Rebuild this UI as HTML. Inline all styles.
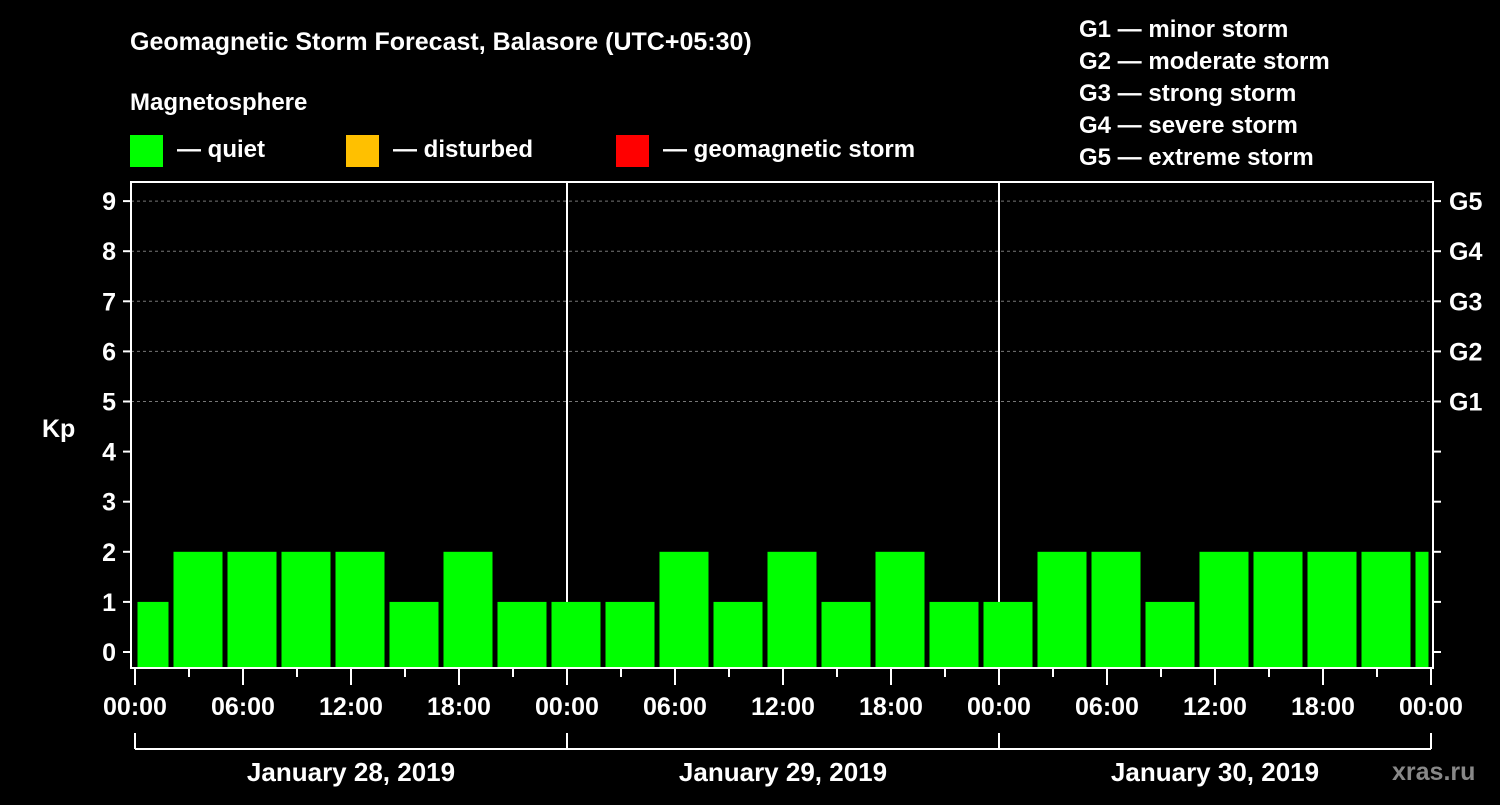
<!DOCTYPE html>
<html><head><meta charset="utf-8"><style>
html,body{margin:0;padding:0;background:#000;}
svg text{font-family:"Liberation Sans",sans-serif;font-weight:bold;fill:#fff;}
</style></head><body>
<svg id="chart" width="1500" height="800" viewBox="0 0 1500 800" xmlns="http://www.w3.org/2000/svg">
<rect width="1500" height="800" fill="#000"/>
<text x="130" y="50" font-size="25">Geomagnetic Storm Forecast, Balasore (UTC+05:30)</text>
<text x="130" y="110" font-size="24">Magnetosphere</text>
<g><rect x="130" y="135" width="33" height="32" fill="#00ff00"/><text x="177" y="157" font-size="24">— quiet</text></g>
<g><rect x="346" y="135" width="33" height="32" fill="#ffc000"/><text x="393" y="157" font-size="24">— disturbed</text></g>
<g><rect x="616" y="135" width="33" height="32" fill="#ff0000"/><text x="663" y="157" font-size="24">— geomagnetic storm</text></g>
<g font-size="24">
<text x="1079" y="37">G1 — minor storm</text>
<text x="1079" y="69">G2 — moderate storm</text>
<text x="1079" y="101">G3 — strong storm</text>
<text x="1079" y="133">G4 — severe storm</text>
<text x="1079" y="165">G5 — extreme storm</text>
</g>
<text x="42" y="437" font-size="25">Kp</text>
<g id="grid"></g><g id="bars"></g><g id="axes"></g>
<text x="1392" y="780" font-size="25" fill="#888" style="fill:#888">xras.ru</text>
</svg>
<script>
const kpValues=[1,2,2,2,2,1,2,1,1,1,2,1,2,1,2,1,1,2,2,1,2,2,2,2,2];
const barStartHour=-1;
const dayLabels=["January 28, 2019","January 29, 2019","January 30, 2019"];
const hourTickLabels=["00:00","06:00","12:00","18:00"];
const gLabels=["G1","G2","G3","G4","G5"];
const NS="http://www.w3.org/2000/svg";
const X0=135,PXH=18,TOTAL=72;
const xS=h=>X0+h*PXH;
const yS=k=>652-k*50.1;
function mk(tag,attrs,parent,text){const e=document.createElementNS(NS,tag);for(const k in attrs)e.setAttribute(k,attrs[k]);if(text!==undefined)e.textContent=text;parent.appendChild(e);return e;}
const grid=document.getElementById('grid'),bars=document.getElementById('bars'),axes=document.getElementById('axes');
for(let k=5;k<=9;k++){const l=mk('line',{x1:131,x2:1433,y1:yS(k),y2:yS(k),stroke:'#777','stroke-dasharray':'3,3','stroke-width':1},grid);

}
for(let d=1;d<dayLabels.length;d++){const l=mk('line',{x1:xS(d*24),x2:xS(d*24),y1:182,y2:668,stroke:'#fff','stroke-width':2},grid);

}
kpValues.forEach((v,i)=>{let h0=barStartHour+i*3,h1=h0+3;h0=Math.max(0,h0);h1=Math.min(TOTAL,h1);if(h1<=h0)return;
const x0=xS(h0)+2.5,x1=xS(h1)-2.5;const col=v>=5?'#ff0000':(v>=4?'#ffc000':'#00ff00');
const r=mk('rect',{x:x0,y:yS(v),width:Math.max(1,x1-x0),height:668-yS(v),fill:col},bars);

});
const frame=mk('rect',{x:131,y:182,width:1302,height:486,fill:'none',stroke:'#fff','stroke-width':2},axes);


for(let k=0;k<=9;k++){const y=yS(k);
mk('line',{x1:123,x2:131,y1:y,y2:y,stroke:'#fff','stroke-width':2},axes);
mk('line',{x1:1433,x2:1441,y1:y,y2:y,stroke:'#fff','stroke-width':2},axes);
const t=mk('text',{x:116,y:y+9,'font-size':25,'text-anchor':'end'},axes,String(k));


if(k>=5){const g=mk('text',{x:1449,y:y+9,'font-size':25},axes,gLabels[k-5]);

}}
for(let h=0;h<=TOTAL;h+=3){const x=xS(h),major=h%6===0;
mk('line',{x1:x,x2:x,y1:668,y2:major?685:677,stroke:'#fff','stroke-width':2},axes);
if(major&&h%6===0&&(h%24)%6===0){const lbl=hourTickLabels[(h%24)/6];
const t=mk('text',{x:x,y:715,'font-size':25,'text-anchor':'middle'},axes,lbl);

}}
mk('line',{x1:xS(0),x2:xS(TOTAL),y1:749,y2:749,stroke:'#fff','stroke-width':2},axes);
for(let d=0;d<=dayLabels.length;d++)mk('line',{x1:xS(d*24),x2:xS(d*24),y1:733,y2:749,stroke:'#fff','stroke-width':2},axes);
dayLabels.forEach((s,d)=>{const t=mk('text',{x:xS(d*24+12),y:781,'font-size':26,'text-anchor':'middle'},axes,s);

});
</script>
</body></html>
